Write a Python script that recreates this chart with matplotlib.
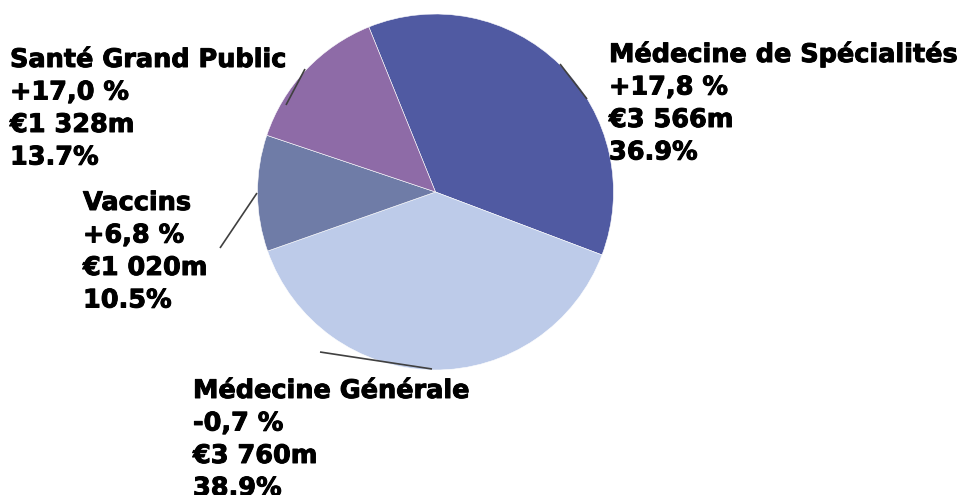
import matplotlib
matplotlib.use('Agg')
import matplotlib.pyplot as plt
import matplotlib.patheffects as pe

# Données du graphique (répartition du CA par activité)
segments = ["Médecine de Spécialités", "Médecine Générale", "Vaccins", "Santé Grand Public"]
croissance = ["+17,8 %", "-0,7 %", "+6,8 %", "+17,0 %"]
ventes_meur = [3566, 3760, 1020, 1328]
parts = ["36.9%", "38.9%", "10.5%", "13.7%"]
couleurs = ["#505AA2", "#BDCBE9", "#6F7CA7", "#8E6BA7"]

W, H = 959, 495

# Mise en page (pixels, origine en haut à gauche)
CENTRE = (435.5, 192)
RAYON = 178
DEPART = 112
# position du texte : (x gauche, baseline de la 1re ligne)
pos_labels = [(609, 62), (193, 398), (83, 210), (10, 67)]
interligne = 32.5
# traits de rappel : ((x0, y0), (x1, y1))
traits = [((560, 64), (587, 99)),
          ((320, 352), (432, 369)),
          ((257, 193), (220, 248)),
          ((305, 69), (286, 105))]


def fy(y):
    return H - y


fig = plt.figure(figsize=(W / 100, H / 100), dpi=100)
ax = fig.add_axes([0, 0, 1, 1])

ax.pie(ventes_meur, colors=couleurs, startangle=DEPART, counterclock=False,
       center=(CENTRE[0], fy(CENTRE[1])), radius=RAYON,
       wedgeprops=dict(edgecolor='white', linewidth=0.4), frame=True)
ax.set_xlim(0, W)
ax.set_ylim(0, H)
ax.set_aspect('equal')
ax.axis('off')

for (p0, p1) in traits:
    ax.plot([p0[0], p1[0]], [fy(p0[1]), fy(p1[1])], color='#404040', lw=1.2,
            solid_capstyle='butt')

# texte un peu plus gras (proche du Verdana Bold de l'original)
gras = [pe.withStroke(linewidth=0.7, foreground='black')]
for i, nom in enumerate(segments):
    x, y = pos_labels[i]
    lignes = [nom, croissance[i], f"€{ventes_meur[i] // 1000} {ventes_meur[i] % 1000:03d}m", parts[i]]
    for k, txt in enumerate(lignes):
        ax.text(x, fy(y + k * interligne), txt, fontsize=18.4, fontweight='bold',
                family='DejaVu Sans', ha='left', va='baseline', color='black',
                path_effects=gras)

fig.savefig('out.png', dpi=100)
